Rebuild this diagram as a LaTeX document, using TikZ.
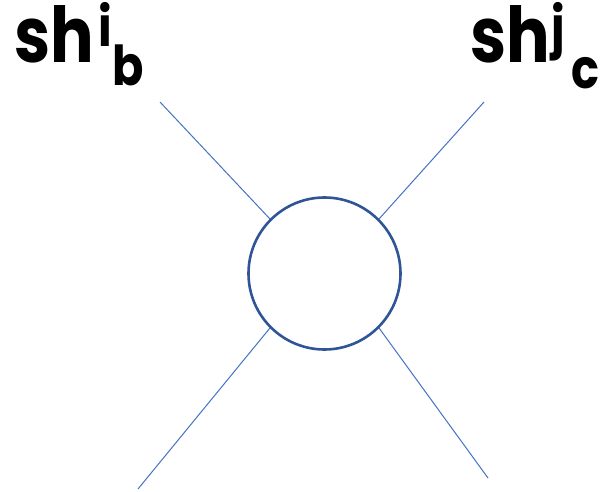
\documentclass[tikz,border=0pt]{standalone}
\usepackage{fontspec}
\newfontfamily\labfont{Poppins}[FakeStretch=0.84]
\definecolor{ringblue}{HTML}{2F5597}
\definecolor{legblue}{HTML}{4472C4}
\begin{document}
\begin{tikzpicture}[x=1pt,y=-1pt,
  ring/.style={circle,draw=ringblue,line width=2.6pt,minimum size=152pt,inner sep=0pt},
  leg/.style={draw=legblue,line width=1pt},
  big/.style={anchor=base west,inner sep=0pt,font=\labfont\bfseries\fontsize{77}{77}\selectfont},
  small/.style={anchor=base west,inner sep=0pt,font=\labfont\bfseries\fontsize{55}{55}\selectfont}]
\useasboundingbox (0,0) rectangle (603,492);
\node[ring] (c) at (324.5,273.5) {};
\coordinate (tl) at (160,102);
\coordinate (tr) at (484,102);
\coordinate (bl) at (138,489);
\coordinate (br) at (488,478);
\draw[leg] (tl) -- (c.135);
\draw[leg] (tr) -- (c.45);
\draw[leg] (bl) -- (c.225);
\draw[leg] (br) -- (c.315);
\node[big] (shl) at (14,63) {sh};
\node[small] (il) at (98,47) {i};
\node[small] (bl2) at (112,86) {b};
\node[big] (shr) at (470,63) {sh};
\node[small] (jr) at (551,47) {j};
\node[small] (cr) at (571,89) {c};
\end{tikzpicture}
\end{document}
